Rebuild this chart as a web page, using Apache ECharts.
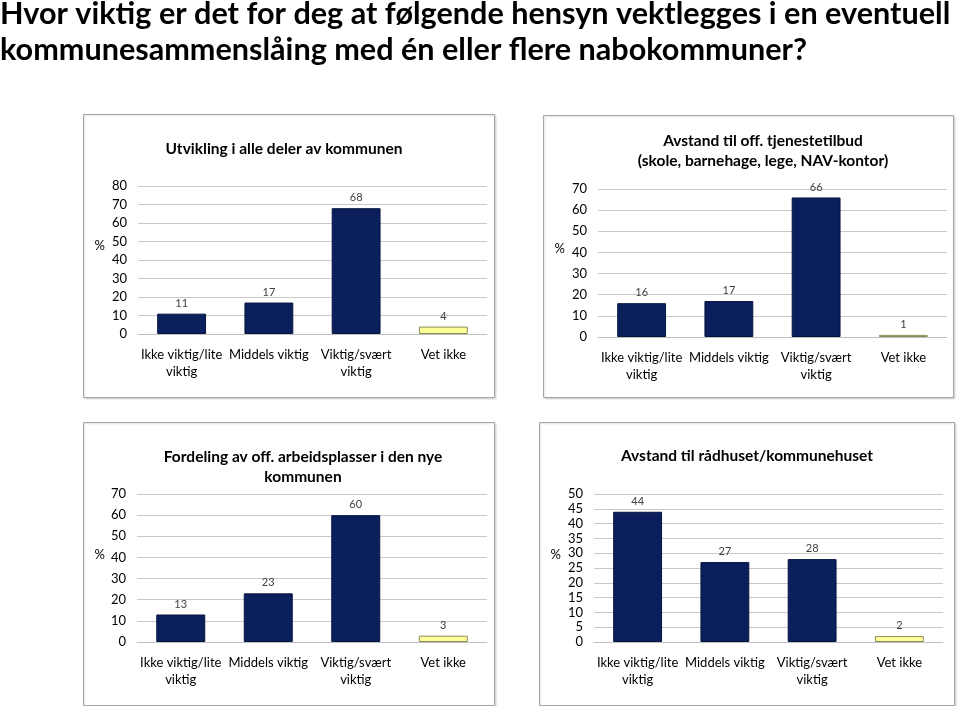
<!DOCTYPE html>
<html>
<head>
<meta charset="utf-8">
<script src="https://cdn.jsdelivr.net/npm/echarts@6/dist/echarts.min.js"></script>
<style>
html,body{margin:0;padding:0;background:#fff;}
#c{width:960px;height:706px;}
</style>
</head>
<body>
<div id="c"></div>
<script>
const categories = ["Ikke viktig/lite\nviktig", "Middels viktig", "Viktig/svært\nviktig", "Vet ikke"];
const utvikling = [11, 17, 68, 4];
const avstandTjeneste = [16, 17, 66, 1];
const fordeling = [13, 23, 60, 3];
const avstandRadhus = [44, 27, 28, 2];
const panelTitles = [
  "Utvikling i alle deler av kommunen",
  "Avstand til off. tjenestetilbud\n(skole, barnehage, lege, NAV-kontor)",
  "Fordeling av off. arbeidsplasser i den nye\nkommunen",
  "Avstand til rådhuset/kommunehuset"
];
const yMax = [80, 70, 70, 50];
const yStep = [10, 10, 10, 5];
const yUnit = "%";
const mainTitle = "Hvor viktig er det for deg at følgende hensyn vektlegges i en eventuell\nkommunesammenslåing med én eller flere nabokommuner?";

const seriesData = [utvikling, avstandTjeneste, fordeling, avstandRadhus];
const FONT = "Lato, 'Noto Sans', sans-serif";
const navy = "#0a1f5c";
const yellow = "#ffff99";

const grids = [
  {left: 138, top: 186, width: 349, height: 148},
  {left: 598, top: 189, width: 349, height: 148},
  {left: 137, top: 494, width: 350, height: 148},
  {left: 594, top: 494, width: 349, height: 148}
];
const panels = [
  {x: 83, y: 114, w: 411, h: 283},
  {x: 543, y: 115, w: 410, h: 282},
  {x: 83, y: 422, w: 411, h: 283},
  {x: 539, y: 422, w: 415, h: 283}
];
const titlePos = [
  {x: 284, y: 139},
  {x: 763, y: 131},
  {x: 303, y: 447},
  {x: 747, y: 446}
];
const pctPos = [
  {x: 105, y: 246},
  {x: 565, y: 249},
  {x: 105, y: 555},
  {x: 561, y: 555}
];

const chart = echarts.init(document.getElementById('c'));
const option = {
  backgroundColor: '#fff',
  animation: false,
  title: [{
    text: mainTitle,
    left: 0, top: -4, padding: 0,
    textStyle: {fontFamily: FONT, fontWeight: 'bold', fontSize: 30.6, color: '#000', lineHeight: 36}
  }].concat(panelTitles.map((t, i) => ({
    text: t,
    left: titlePos[i].x, top: titlePos[i].y, padding: 0,
    textAlign: 'center',
    textStyle: {fontFamily: FONT, fontWeight: 'bold', fontSize: 15.5, color: '#000', lineHeight: 20}
  }))),
  graphic: panels.map(p => ({
    type: 'rect', silent: true, z: -1,
    shape: {x: p.x + 0.5, y: p.y + 0.5, width: p.w, height: p.h},
    style: {fill: '#fff', stroke: '#a6a6a6', lineWidth: 1, shadowColor: 'rgba(0,0,0,0.15)', shadowBlur: 2, shadowOffsetX: 1, shadowOffsetY: 1}
  })).concat(pctPos.map(p => ({
    type: 'text', silent: true, z: 10,
    x: p.x, y: p.y,
    style: {text: yUnit, fontFamily: FONT, fontSize: 13, fill: '#000', align: 'right', verticalAlign: 'middle'}
  }))),
  grid: grids,
  xAxis: grids.map((g, i) => ({
    type: 'category', gridIndex: i, data: categories,
    axisTick: {show: false},
    axisLine: {show: true, lineStyle: {color: '#bfbfbf'}},
    axisLabel: {fontFamily: FONT, fontSize: 13, color: '#000', margin: 12, lineHeight: 17, interval: 0}
  })),
  yAxis: grids.map((g, i) => ({
    type: 'value', gridIndex: i, min: 0, max: yMax[i], interval: yStep[i],
    axisLine: {show: false}, axisTick: {show: false},
    splitLine: {lineStyle: {color: '#c8c8c8'}},
    axisLabel: {fontFamily: FONT, fontSize: 13, color: '#000', margin: 11}
  })),
  series: seriesData.map((d, i) => ({
    type: 'bar', xAxisIndex: i, yAxisIndex: i,
    barWidth: '56%',
    data: d.map((v, j) => ({
      value: v,
      itemStyle: j === 3
        ? {color: yellow, borderColor: '#8c8c5a', borderWidth: 1}
        : {color: navy, borderColor: '#061540', borderWidth: 1}
    })),
    label: {show: true, position: 'top', distance: 5, fontFamily: FONT, fontSize: 11, color: '#404040'}
  }))
};
chart.setOption(option);
</script>
</body>
</html>
